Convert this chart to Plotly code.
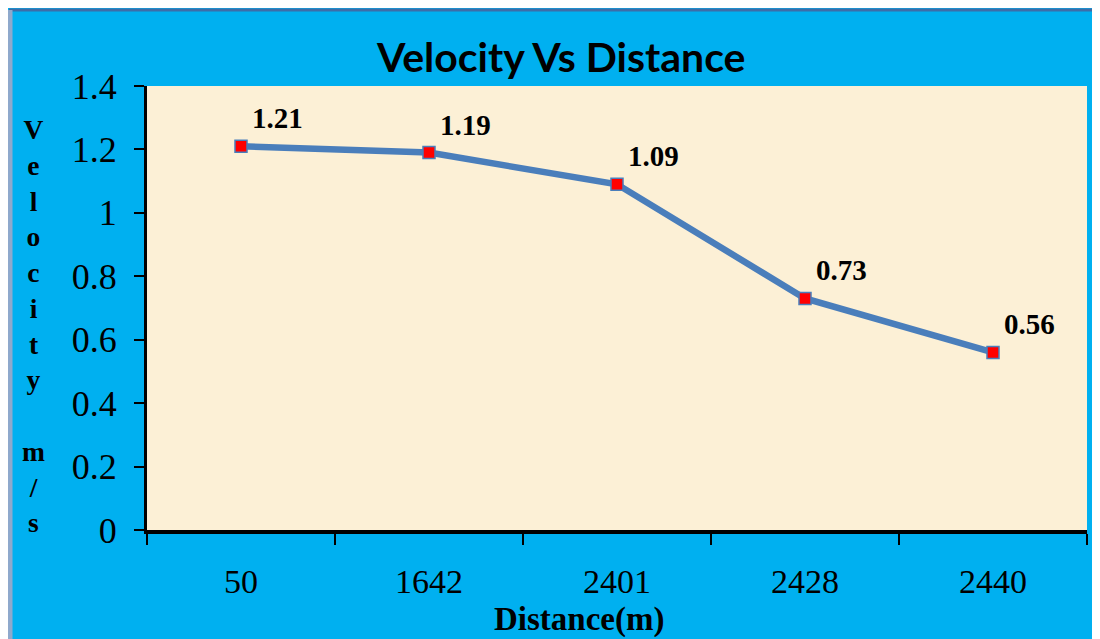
import plotly.graph_objects as go

distances = ["50", "1642", "2401", "2428", "2440"]
velocity = [1.21, 1.19, 1.09, 0.73, 0.56]
y_ticks = [0, 0.2, 0.4, 0.6, 0.8, 1.0, 1.2, 1.4]
title_text = "Velocity Vs Distance"
x_title = "Distance(m)"
y_title_letters = ["V", "e", "l", "o", "c", "i", "t", "y", " ", "m", "/", "s"]

# The page body has an 8px margin; the white strip left and top of the
# reference frame is that margin.
O = 8
W, H = 1100 - O, 639 - O
L, R, T, B = 147 - O, 13, 86 - O, 109
pw, ph = W - L - R, H - T - B

def px_x(x):  # reference pixel -> paper coordinate
    return (x - O - L) / pw

def px_y(y):
    return (H - B - (y - O)) / ph

BLUE = "#00B0F0"
SERIF = "Liberation Serif, Times New Roman, serif"

idx = list(range(len(distances)))
boundaries = [i - 0.5 for i in range(len(distances) + 1)]

fig = go.Figure()
fig.add_trace(go.Scatter(
    x=idx, y=velocity, mode="lines+markers",
    line=dict(color="#4A7EBB", width=6.5),
    marker=dict(symbol="square", size=12, color="#FF0000",
                line=dict(color="#4A7EBB", width=1.5)),
    cliponaxis=False, showlegend=False, hoverinfo="skip",
))

for i, v in zip(idx, velocity):
    fig.add_annotation(x=i, y=v, text=f"<b>{v:.2f}</b>", showarrow=False,
                       xanchor="left", yanchor="bottom", xshift=9, yshift=10,
                       font=dict(family=SERIF, size=29, color="black"))

# title
fig.add_annotation(xref="paper", yref="paper", x=px_x(561), y=px_y(57),
                   text=f"<b>{title_text}</b>", showarrow=False,
                   xanchor="center", yanchor="middle",
                   font=dict(family="Lato, Liberation Sans, sans-serif", size=41, color="black"))
# x axis title
fig.add_annotation(xref="paper", yref="paper", x=px_x(579), y=px_y(619),
                   text=f"<b>{x_title}</b>", showarrow=False,
                   xanchor="center", yanchor="middle",
                   font=dict(family=SERIF, size=33, color="black"))
# y axis title (stacked letters)
fig.add_annotation(xref="paper", yref="paper", x=px_x(33), y=px_y(326),
                   text="<b>" + "<br>".join(y_title_letters) + "</b>", showarrow=False,
                   xanchor="center", yanchor="middle", align="center",
                   font=dict(family=SERIF, size=27.5, color="black"))

# frame border lines
fig.add_shape(type="line", xref="paper", yref="paper",
              x0=px_x(9), x1=px_x(1100), y0=px_y(10), y1=px_y(10),
              line=dict(color="#3D6DA8", width=3), layer="below")
fig.add_shape(type="line", xref="paper", yref="paper",
              x0=px_x(10), x1=px_x(10), y0=px_y(10), y1=px_y(639),
              line=dict(color="#8FA9CC", width=5), layer="below")

fig.update_layout(
    width=W, height=H,
    margin=dict(l=L, r=R, t=T, b=B, autoexpand=False),
    paper_bgcolor=BLUE,
    plot_bgcolor="#FCF0D6",
    showlegend=False,
    xaxis=dict(
        range=[-0.5, len(distances) - 0.5],
        tickvals=idx, ticktext=distances, ticks="",
        showline=True, linecolor="black", linewidth=4,
        showgrid=False, zeroline=False,
        tickfont=dict(family=SERIF, size=34, color="black"),
        ticklabelstandoff=18, tickangle=0, automargin=False,
        minor=dict(tickvals=boundaries, ticks="outside", ticklen=11,
                   tickwidth=2, tickcolor="black", showgrid=False),
        fixedrange=True,
    ),
    yaxis=dict(
        range=[0, 1.4], tickvals=y_ticks, ticks="outside",
        ticklen=10, tickwidth=2, tickcolor="black",
        showline=True, linecolor="black", linewidth=3,
        showgrid=False, zeroline=False,
        tickfont=dict(family=SERIF, size=36, color="black"),
        ticklabelstandoff=10, automargin=False,
        fixedrange=True,
    ),
)

fig.write_html("out.html")
